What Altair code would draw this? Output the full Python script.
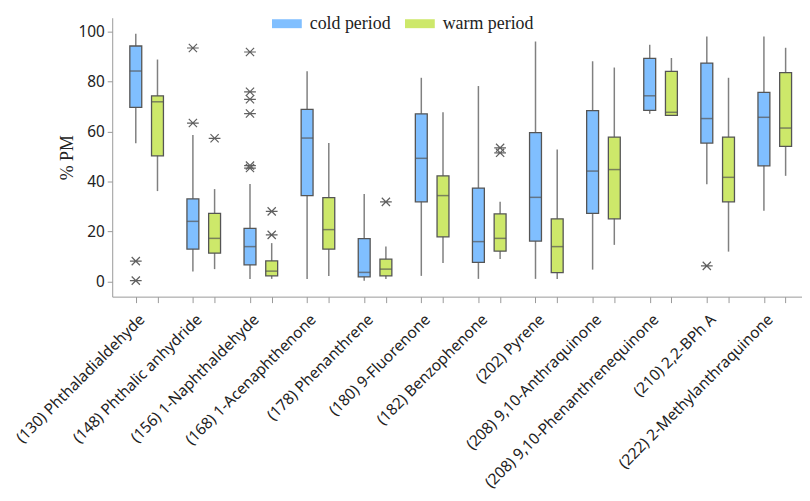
import json
import altair as alt
import pandas as pd

names = [
    "(130) Phthaladialdehyde", "(148) Phthalic anhydride", "(156) 1-Naphthaldehyde",
    "(168) 1-Acenaphthenone", "(178) Phenanthrene", "(180) 9-Fluorenone",
    "(182) Benzophenone", "(202) Pyrene", "(208) 9,10-Anthraquinone",
    "(208) 9,10-Phenanthrenequinone", "(210) 2,2-BPh A", "(222) 2-Methylanthraquinone",
]
periods = ["cold period", "warm period"]

# cold period box statistics
cold_lo = [55.3, 4.1, 1.1, 1.1, 0.4, 2.3, 1.1, 1.1, 4.8, 67.1, 38.9, 28.3]
cold_q1 = [69.7, 13.0, 6.7, 34.4, 1.9, 31.9, 7.7, 16.2, 27.3, 68.5, 55.4, 46.3]
cold_med = [84.2, 24.1, 14.0, 57.4, 3.7, 49.3, 16.0, 33.7, 44.2, 74.3, 65.2, 65.7]
cold_q3 = [94.2, 33.1, 21.3, 68.9, 17.2, 67.1, 37.4, 59.6, 68.4, 89.3, 87.4, 75.7]
cold_hi = [99.1, 58.6, 39.0, 84.1, 35.0, 81.5, 78.2, 96.0, 88.1, 94.7, 98.0, 98.0]

# warm period box statistics
warm_lo = [36.2, 5.0, 1.1, 2.3, 1.1, 7.5, 9.0, 1.1, 14.7, 66.5, 12.0, 42.3]
warm_q1 = [50.3, 11.4, 2.3, 13.0, 2.3, 17.9, 12.2, 3.6, 25.1, 66.5, 31.9, 54.1]
warm_med = [71.9, 17.3, 4.2, 20.8, 5.0, 34.4, 17.3, 14.0, 44.8, 67.7, 41.7, 61.4]
warm_q3 = [74.3, 27.3, 8.3, 33.6, 9.0, 42.3, 27.1, 25.1, 57.8, 84.1, 57.8, 83.6]
warm_hi = [88.8, 37.0, 15.4, 55.4, 14.0, 67.7, 31.9, 52.8, 85.6, 89.4, 81.5, 93.5]

# outliers: (category index, period, value)
out_cat = [0, 0, 1, 1, 1, 2, 2, 2, 2, 2, 2, 2, 2, 4, 6, 6, 10]
out_per = ["cold period", "cold period", "cold period", "cold period", "warm period",
           "cold period", "cold period", "cold period", "cold period", "cold period",
           "cold period", "warm period", "warm period", "warm period", "warm period",
           "warm period", "cold period"]
out_val = [8.2, 0.4, 93.4, 63.4, 57.3, 91.8, 75.9, 72.9, 67.2, 46.4, 45.4, 28.1, 18.7,
           31.9, 53.5, 51.5, 6.3]

OFF = 0.19
def pos(i, p):
    return i - OFF if p == "cold period" else i + OFF

rows = []
for i, n in enumerate(names):
    rows.append(dict(pos=pos(i, periods[0]), period=periods[0], lo=cold_lo[i], q1=cold_q1[i],
                     med=cold_med[i], q3=cold_q3[i], hi=cold_hi[i]))
    rows.append(dict(pos=pos(i, periods[1]), period=periods[1], lo=warm_lo[i], q1=warm_q1[i],
                     med=warm_med[i], q3=warm_q3[i], hi=warm_hi[i]))
df = pd.DataFrame(rows)
dfo = pd.DataFrame(dict(pos=[pos(c, p) for c, p in zip(out_cat, out_per)], period=out_per, val=out_val))

tick_vals = []
for i in range(len(names)):
    tick_vals += [i - OFF, float(i), i + OFF]

label_expr = ("abs(datum.value - round(datum.value)) < 0.01 ? "
              + json.dumps(names) + "[round(datum.value)] : ''")

xscale = alt.Scale(domain=[-0.516, 11.39], nice=False, zero=False)
yscale = alt.Scale(domain=[-6, 105.5], nice=False, zero=False)

xaxis = alt.Axis(
    values=tick_vals, labelExpr=label_expr, labelAngle=-45, labelAlign="right",
    labelBaseline="middle", labelOverlap=False, labelFlush=False, labelPadding=14,
    labelOffset=-5, labelLimit=0, labelBound=False,
    labelFont="Noto Sans", labelFontSize=15.5, labelColor="#222222", grid=False, title=None,
    domainColor="#999999", tickColor="#999999", tickSize=6,
    tickOpacity={"condition": {"test": "abs(datum.value - round(datum.value)) < 0.01", "value": 0}, "value": 1},
)
yaxis = alt.Axis(
    values=[0, 20, 40, 60, 80, 100], grid=False, title="% PM", titleFont="Liberation Serif",
    titleFontSize=18, titleFontWeight="normal", titleColor="#222222", titlePadding=1,
    labelFont="Noto Sans", labelFontSize=15.5, labelColor="#222222",
    domainColor="#999999", tickColor="#999999", tickSize=5, labelPadding=3,
)

base = alt.Chart(df)
X = alt.X("pos:Q", scale=xscale, axis=xaxis)

whisk = base.mark_rule(color="#808080", strokeWidth=1.5).encode(
    x=X, y=alt.Y("lo:Q", scale=yscale, axis=yaxis), y2="hi:Q")

legend = alt.Legend(
    title=None, orient="none", legendX=161, legendY=-9, direction="horizontal",
    symbolType="M-1,-0.3H1V0.3H-1Z", symbolSize=900, symbolStrokeWidth=0,
    labelFont="Liberation Serif", labelFontSize=18, labelColor="#222222",
    labelOffset=8, columnPadding=14, padding=0,
)
box = base.mark_bar(size=12, stroke="#555555", strokeWidth=1.3).encode(
    x=X, y="q1:Q", y2="q3:Q",
    color=alt.Color("period:N", scale=alt.Scale(domain=periods, range=["#80bfff", "#cde86a"]), legend=legend),
)
med = base.mark_tick(orient="horizontal", size=12, thickness=1.5, color="#555555").encode(
    x=X, y="med:Q")

star = "M-1,0H1M-0.7,-0.7L0.7,0.7M-0.7,0.7L0.7,-0.7"
outl = alt.Chart(dfo).mark_point(shape=star, filled=False, size=140, stroke="#606060",
                                 strokeWidth=1.2, opacity=1).encode(x=X, y="val:Q")

chart = alt.layer(whisk, box, med, outl).properties(
    width=695, height=281,
    autosize=alt.AutoSizeParams(type="none"),
    padding={"left": 105, "top": 8, "right": 0, "bottom": 194},
).configure_view(stroke=None)

chart.save("out.html", embed_options={"renderer": "svg", "actions": False})
